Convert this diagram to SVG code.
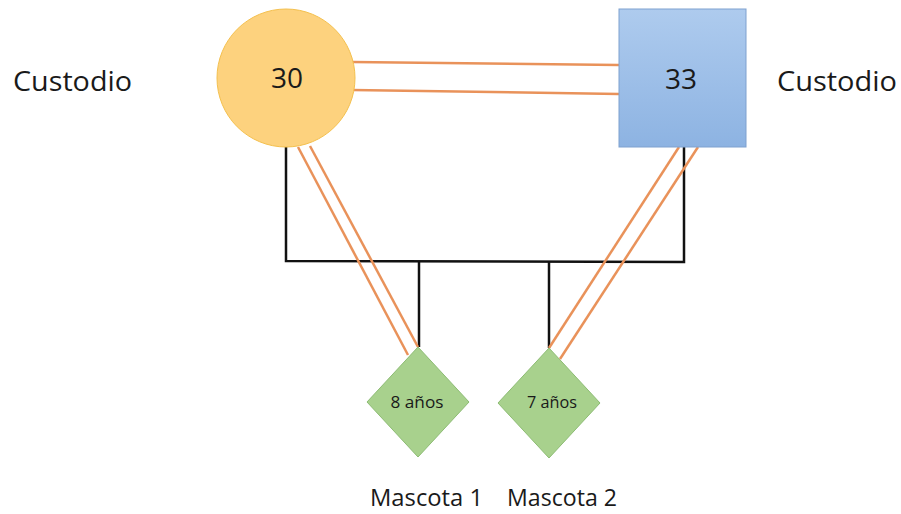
<svg xmlns="http://www.w3.org/2000/svg" width="901" height="514" viewBox="0 0 901 514">
<defs>
<linearGradient id="gBlue" x1="0" y1="0" x2="0" y2="1">
<stop offset="0" stop-color="#AECBEE"/>
<stop offset="1" stop-color="#8DB3E2"/>
</linearGradient>
<style>
.lbl{font-family:"Open Sans","Noto Sans",sans-serif;fill:#1a1a1a}
.org{stroke:#E9925A;stroke-width:2.5;fill:none}
.blk{stroke:#111;stroke-width:2.5;fill:none}
.dia{fill:#A8D18D;stroke:#8DBC74;stroke-width:1}
</style>
</defs>
<rect width="901" height="514" fill="#fff"/>
<g id="connectors">
<line class="org" x1="352" y1="62" x2="619" y2="65"/>
<line class="org" x1="352" y1="90" x2="619" y2="94"/>
<polyline class="blk" points="286,147 286,261 684,262 684,147"/>
<line class="blk" x1="419" y1="261" x2="419" y2="347"/>
<line class="blk" x1="549" y1="262" x2="549" y2="348"/>
<line class="org" x1="298" y1="147" x2="408" y2="355"/>
<line class="org" x1="310" y1="146" x2="418" y2="347"/>
<line class="org" x1="679" y1="147" x2="549" y2="348"/>
<line class="org" x1="698" y1="147" x2="560" y2="359"/>
</g>
<g id="label-left">
<text class="lbl" x="13" y="91" font-size="28" textLength="119" lengthAdjust="spacingAndGlyphs">Custodio</text>
</g>
<g id="label-right">
<text class="lbl" x="777" y="91" font-size="28" textLength="120" lengthAdjust="spacingAndGlyphs">Custodio</text>
</g>
<g id="node-30">
<circle cx="286" cy="78" r="69" fill="#FDD27E" stroke="#F4C04E" stroke-width="1"/>
<text class="lbl" x="287" y="88" font-size="28" text-anchor="middle">30</text>
</g>
<g id="node-33">
<rect x="619" y="9" width="127" height="138" fill="url(#gBlue)" stroke="#7EA1CF" stroke-width="1"/>
<text class="lbl" x="681" y="89" font-size="28" text-anchor="middle">33</text>
</g>
<g id="node-8">
<polygon class="dia" points="418,347 469,402 418,457 367,402"/>
<text class="lbl" x="417" y="408" font-size="16.5" text-anchor="middle" textLength="53" lengthAdjust="spacingAndGlyphs">8 años</text>
</g>
<g id="node-7">
<polygon class="dia" points="549,348 600,403 549,458 498,403"/>
<text class="lbl" x="552" y="408" font-size="16.5" text-anchor="middle" textLength="50" lengthAdjust="spacingAndGlyphs">7 años</text>
</g>
<g id="label-m1">
<text class="lbl" x="370" y="506" font-size="23" textLength="113" lengthAdjust="spacingAndGlyphs">Mascota 1</text>
</g>
<g id="label-m2">
<text class="lbl" x="507" y="506" font-size="23" textLength="110" lengthAdjust="spacingAndGlyphs">Mascota 2</text>
</g>
</svg>
